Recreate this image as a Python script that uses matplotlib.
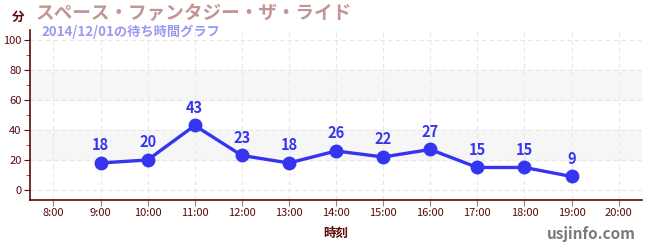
import matplotlib
matplotlib.use("Agg")
import matplotlib.pyplot as plt
from matplotlib.ticker import MultipleLocator

plt.rcParams["font.family"] = ["Noto Sans CJK JP", "DejaVu Sans"]

hours = [9, 10, 11, 12, 13, 14, 15, 16, 17, 18, 19]
waits = [18, 20, 43, 23, 18, 26, 22, 27, 15, 15, 9]
tick_hours = list(range(8, 21))
tick_labels = [f"{h}:00" for h in tick_hours]
title = "スペース・ファンタジー・ザ・ライド"
subtitle = "2014/12/01の待ち時間グラフ"

axis_col = "#5a0a0a"
line_col = "#3535f0"

fig = plt.figure(figsize=(6.5, 2.5), dpi=100)
ax = fig.add_axes([0.046, 0.2, 0.942, 0.68])

# alternating light bands
for lo, hi in [(20, 40), (60, 80)]:
    ax.axhspan(lo, hi, color="#f6f6f6", zorder=0)

ax.plot(hours, waits, color=line_col, lw=2.4, marker="o", ms=9, zorder=3)
for h, w in zip(hours, waits):
    ax.annotate(str(w), (h, w), xytext=(0, 7), textcoords="offset points",
                ha="center", va="bottom", color=line_col, fontsize=10.5, fontweight="bold")

ax.set_xlim(7.5, 20.5)
ax.set_ylim(-6.7, 106.7)
ax.set_xticks(tick_hours)
ax.set_xticklabels(tick_labels)
ax.set_yticks(range(0, 101, 20))
ax.yaxis.set_minor_locator(MultipleLocator(10))
ax.grid(True, which="major", ls=(0, (4, 3)), color="#e6e6e6", lw=0.8, zorder=1)

for s in ["top", "right"]:
    ax.spines[s].set_visible(False)
for s in ["left", "bottom"]:
    ax.spines[s].set_color(axis_col)
    ax.spines[s].set_linewidth(1.2)
ax.tick_params(axis="both", which="major", colors=axis_col, labelsize=8, length=4, pad=2)
ax.tick_params(axis="y", which="minor", colors="#d02020", length=3)
ax.tick_params(axis="x", which="major", color="#888888")

ax.set_xlabel("時刻", color=axis_col, fontsize=9, fontweight="bold", labelpad=6)

fig.text(0.028, 0.93, "分", color=axis_col, fontsize=9, fontweight="bold", ha="center", va="center")
fig.text(0.055, 0.945, title, color="#c49494", fontsize=13.4, fontweight="bold", ha="left", va="center")
fig.text(0.064, 0.872, subtitle, color="#9a9af0", fontsize=9.5, fontweight="bold", ha="left", va="center")
fig.text(0.978, 0.065, "usjinfo.com", color="#7a7a7a", fontsize=11, fontweight="bold", ha="right", va="center")

fig.savefig("out.png", dpi=100)
